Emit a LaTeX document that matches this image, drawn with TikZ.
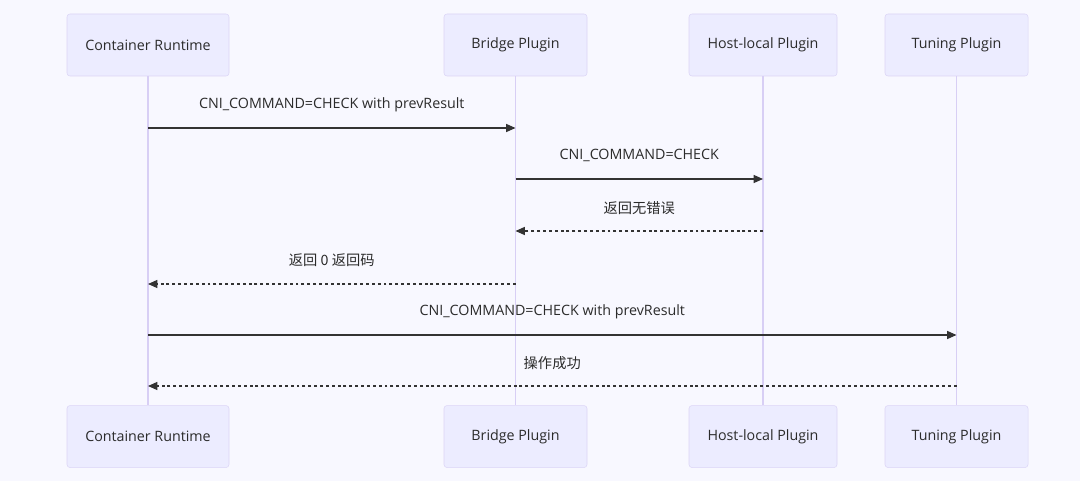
\documentclass[tikz,border=0pt]{standalone}
\usepackage{fontspec}
\setmainfont{Open Sans}
\newfontfamily\cjk{Noto Sans CJK SC}
\usetikzlibrary{arrows.meta, positioning}

\definecolor{bgc}{HTML}{F8F8FF}
\definecolor{actorfill}{HTML}{ECECFF}
\definecolor{actorline}{HTML}{DCD5F6}
\definecolor{lifeline}{HTML}{D8CFF5}
\definecolor{msgc}{HTML}{333333}
\definecolor{txt}{HTML}{2B2B2B}

\begin{document}
\begin{tikzpicture}[
            x = 0.75pt, y = -0.75pt, % pixel grid, y going down
            actor/.style = {draw=actorline, fill=actorfill, rounded corners=2.25pt,
                minimum height=46.5pt, inner sep=0pt, text=txt,
                font=\fontsize{10.7}{12}\selectfont},
            life/.style = {draw=lifeline, line width=1pt},
            msg/.style = {draw=msgc, line width=0.9pt, -{Triangle[length=7pt, width=6pt]}},
            reply/.style = {msg, dash pattern=on 2.2pt off 2.2pt},
            lbl/.style = {text=txt, font=\fontsize{10.7}{12}\selectfont, yshift=17.5pt}
        ]

        \fill[bgc] (0,0) rectangle (1080,481);

        % participants, top row
        \node[actor, minimum width=121.5pt] (cr) at (148,45) {Container Runtime};
        \node[actor, minimum width=107.25pt] (bp) at (515.5,45) {Bridge Plugin};
        \node[actor, minimum width=111pt] (hp) at (763,45) {Host-local Plugin};
        \node[actor, minimum width=107.25pt] (tp) at (956.5,45) {Tuning Plugin};

        % participants, bottom row
        \node[actor, minimum width=121.5pt, below=246.75pt of cr] (crb) {Container Runtime};
        \node[actor, minimum width=107.25pt, below=246.75pt of bp] (bpb) {Bridge Plugin};
        \node[actor, minimum width=111pt, below=246.75pt of hp] (hpb) {Host-local Plugin};
        \node[actor, minimum width=107.25pt, below=246.75pt of tp] (tpb) {Tuning Plugin};

        % lifelines
        \draw[life] (cr) -- (crb);
        \draw[life] (bp) -- (bpb);
        \draw[life] (hp) -- (hpb);
        \draw[life] (tp) -- (tpb);

        % messages
        \draw[msg] (cr |- 0,128) -- (bp |- 0,128)
            node[lbl, midway] {CNI\_COMMAND=CHECK with prevResult};
        \draw[msg] (bp |- 0,179) -- (hp |- 0,179)
            node[lbl, midway] {CNI\_COMMAND=CHECK};
        \draw[reply] (hp |- 0,231) -- (bp |- 0,231)
            node[lbl, midway] {\cjk 返回无错误};
        \draw[reply] (bp |- 0,284) -- (cr |- 0,284)
            node[lbl, midway] {\cjk 返回 0 返回码};
        \draw[msg] (cr |- 0,335) -- (tp |- 0,335)
            node[lbl, midway] {CNI\_COMMAND=CHECK with prevResult};
        \draw[reply] (tp |- 0,386) -- (cr |- 0,386)
            node[lbl, midway] {\cjk 操作成功};
\end{tikzpicture}
\end{document}
